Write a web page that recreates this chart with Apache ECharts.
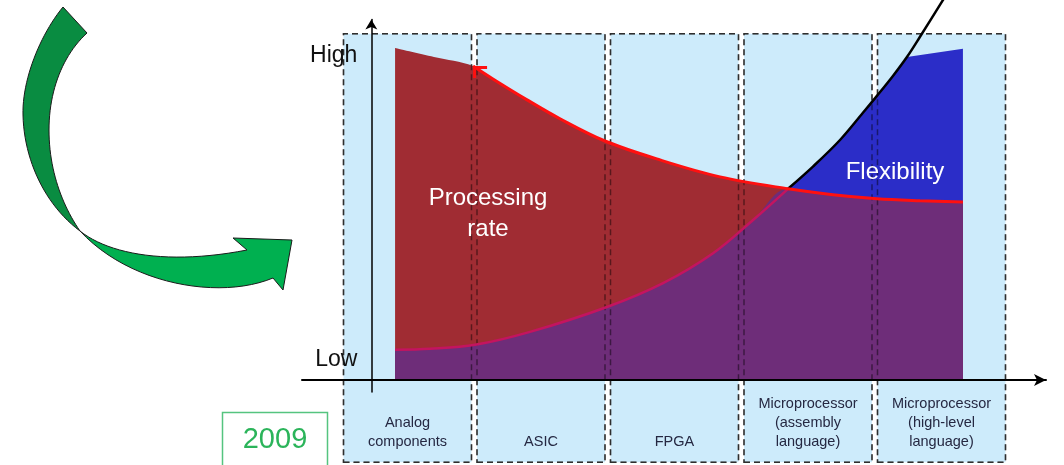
<!DOCTYPE html>
<html>
<head>
<meta charset="utf-8">
<script src="https://cdn.jsdelivr.net/npm/echarts@6/dist/echarts.min.js"></script>
<style>
  html, body { margin: 0; padding: 0; background: #ffffff; }
  #chart { width: 1064px; height: 465px; }
</style>
</head>
<body>
<div id="chart"></div>
<script>
// Technology columns along the horizontal axis
const categories = ['Analog\ncomponents', 'ASIC', 'FPGA', 'Microprocessor\n(assembly\nlanguage)', 'Microprocessor\n(high-level\nlanguage)'];
const columnHeights = [1, 1, 1, 1, 1];

// Qualitative levels on the vertical axis
const levelNames = ['Low', 'High'];
const levelValues = [6, 97.6];

// Processing rate: upper edge of the red region
const processingRate = [
  [0.178, 100.0], [0.47, 97.3], [0.763, 94.6], [0.912, 90.7], [1.168, 84.4], [1.415, 78.7],
  [1.752, 72.0], [2.165, 66.3], [2.615, 61.2], [3.125, 57.6], [3.462, 55.8], [3.792, 54.6],
  [4.115, 54.0], [4.437, 53.6]
];

// Flexibility: rising curve that leaves the plot at the top
const flexibility = [
  [0.178, 9.1], [0.441, 9.4], [0.778, 10.6], [1.19, 14.5], [1.767, 22.0], [2.188, 29.2],
  [2.563, 38.2], [2.863, 48.2], [3.125, 57.6], [3.312, 64.3], [3.515, 72.3], [3.687, 80.5],
  [3.792, 85.6], [3.912, 91.6], [4.017, 97.3], [4.115, 103.4], [4.288, 114.5], [4.34, 117.9]
];

// Top edge of the blue region after it leaves the curve
const flexibilityCap = [[4.017, 97.3], [4.437, 99.8]];

// Where the two curves cross
const crossoverX = 3.125;

const FONT = '"Liberation Sans", Arial, Helvetica, sans-serif';

// Derived outlines
const flexBelowCross = flexibility.filter(p => p[0] <= crossoverX);
const flexAboveCross = flexibility.filter(p => p[0] >= crossoverX);
const rateAfterCross = processingRate.filter(p => p[0] > crossoverX);
const blueOutline = flexibility.filter(p => p[0] <= flexibilityCap[0][0]).concat(flexibilityCap.slice(1));
const overlapOutline = flexBelowCross.concat(rateAfterCross);

// Open arrow head at the start of the processing-rate curve; the corner sits at the
// centre of the symbol's bounding box so it lands on the data point.
const ARROW_HEAD = 'path://M-14,-12L-13.9,-12L-13.9,-11.9Z M0,0L14,0L14,3L3,3L3,12L0,12Z';
const rateStroke = processingRate.slice(2).map((p, i) => i === 0 ? {
  value: p,
  symbol: ARROW_HEAD,
  symbolSize: [28, 24],
  itemStyle: { color: '#ff1010' }
} : p);

// Turn a chain of cubic Bezier segments / straight lines into polygon points
function outline(start, segments) {
  const pts = [start];
  let cur = start;
  segments.forEach(seg => {
    if (seg.length === 1) {
      pts.push(seg[0]);
      cur = seg[0];
      return;
    }
    const [c1, c2, end] = seg;
    for (let i = 1; i <= 24; i++) {
      const t = i / 24, u = 1 - t;
      pts.push([
        u * u * u * cur[0] + 3 * u * u * t * c1[0] + 3 * u * t * t * c2[0] + t * t * t * end[0],
        u * u * u * cur[1] + 3 * u * u * t * c1[1] + 3 * u * t * t * c2[1] + t * t * t * end[1]
      ]);
    }
    cur = end;
  });
  return pts;
}

const arrowUpper = outline([63, 7], [
  [[40, 35], [22, 80], [23, 115]],
  [[24, 160], [45, 205], [80, 231]],
  [[62, 205], [49, 170], [49, 130]],
  [[49, 90], [63, 55], [87, 33]]
]);
const arrowLower = outline([80, 231], [
  [[110, 255], [170, 265], [247, 250]],
  [[233, 238]],
  [[292, 240]],
  [[283, 290]],
  [[273, 278]],
  [[220, 300], [130, 285], [80, 231]]
]);

const chart = echarts.init(document.getElementById('chart'), null, { renderer: 'canvas' });

const boxBar = (overlay) => ({
  type: 'bar',
  xAxisIndex: 0,
  yAxisIndex: 0,
  data: columnHeights,
  barWidth: '97%',
  barGap: '-100%',
  z: overlay ? 5 : 1,
  silent: true,
  itemStyle: overlay ? {
    color: 'rgba(0,0,0,0)', borderColor: 'rgba(0,0,0,0.45)', borderWidth: 1.5, borderType: [6, 4]
  } : {
    color: '#cdebfb', borderColor: '#555555', borderWidth: 1.5, borderType: [6, 4]
  },
  label: overlay ? { show: false } : {
    show: true, position: 'insideBottom', distance: 12, formatter: '{b}',
    fontSize: 14.5, lineHeight: 19, color: '#252842', fontFamily: FONT
  }
});

const fill = (data, color, z, smooth) => ({
  type: 'line', xAxisIndex: 1, yAxisIndex: 1, data, smooth,
  symbol: 'none', silent: true, z,
  lineStyle: { width: 0, opacity: 0 },
  areaStyle: { color, opacity: 1 }
});

const stroke = (data, color, width, z, extra) => Object.assign({
  type: 'line', xAxisIndex: 1, yAxisIndex: 1, data, smooth: 0.35,
  symbol: 'none', silent: true, z,
  lineStyle: { color, width }
}, extra || {});

chart.setOption({
  animation: false,
  grid: [
    { left: 340.75, right: 55.75, top: 33, bottom: 2 },
    { left: 302, right: 18, top: 19.5, bottom: 73 }
  ],
  xAxis: [
    { gridIndex: 0, type: 'category', data: categories, show: false },
    {
      gridIndex: 1, type: 'value', min: -0.52, max: 5.06, z: 8,
      axisLine: { show: true, onZero: true, symbol: ['none', 'arrow'], symbolSize: [9, 12],
        lineStyle: { color: '#000', width: 2 } },
      axisTick: { show: false }, axisLabel: { show: false }, splitLine: { show: false }
    }
  ],
  yAxis: [
    { gridIndex: 0, type: 'value', min: 0, max: 1, show: false },
    {
      gridIndex: 1, type: 'value', min: -3.6, max: 108.6, z: 8,
      // the vertical axis sits where the horizontal value is 0
      offset: -69.33,
      axisLine: { show: true, onZero: false, symbol: ['none', 'arrow'], symbolSize: [9, 10],
        lineStyle: { color: '#000', width: 1.5 } },
      axisTick: { show: false },
      splitLine: { show: false },
      axisLabel: {
        show: true, customValues: levelValues, margin: 14,
        formatter: v => levelNames[levelValues.indexOf(v)] || '',
        fontSize: 23, color: '#111', fontFamily: FONT
      }
    }
  ],
  series: [
    boxBar(false),
    fill(blueOutline, '#2b2dc8', 2, false),
    fill(processingRate, '#a02c33', 3, 0.35),
    fill(overlapOutline, '#6e2d79', 4, 0.35),
    boxBar(true),
    stroke(flexBelowCross, '#c4145f', 2.5, 6),
    stroke(flexAboveCross, '#000000', 2.5, 6, { clip: false }),
    stroke(rateStroke, '#ff1010', 3, 7, { showSymbol: true })
  ],
  graphic: [
    // Curved green arrow
    {
      type: 'polygon', z: 10, silent: true,
      shape: { points: arrowUpper },
      style: { fill: '#098c41', stroke: '#1a1a1a', lineWidth: 1 }
    },
    {
      type: 'polygon', z: 10, silent: true,
      shape: { points: arrowLower },
      style: { fill: '#00b050', stroke: '#1a1a1a', lineWidth: 1 }
    },
    // Year box
    {
      type: 'rect', z: 10, silent: true,
      shape: { x: 222.5, y: 412.5, width: 105, height: 70 },
      style: { fill: 'none', stroke: '#55c47f', lineWidth: 1.5 }
    },
    {
      type: 'text', z: 10, silent: true, x: 275, y: 440,
      style: { text: '2009', fill: '#2bb45a', font: '29px ' + FONT, textAlign: 'center', textVerticalAlign: 'middle' }
    },
    // Region names
    {
      type: 'text', z: 20, silent: true, x: 488, y: 214,
      style: { text: 'Processing\nrate', fill: '#ffffff', font: '24px ' + FONT, lineHeight: 31,
        textAlign: 'center', textVerticalAlign: 'middle' }
    },
    {
      type: 'text', z: 20, silent: true, x: 895, y: 172,
      style: { text: 'Flexibility', fill: '#ffffff', font: '24px ' + FONT,
        textAlign: 'center', textVerticalAlign: 'middle' }
    }
  ]
});
</script>
</body>
</html>
